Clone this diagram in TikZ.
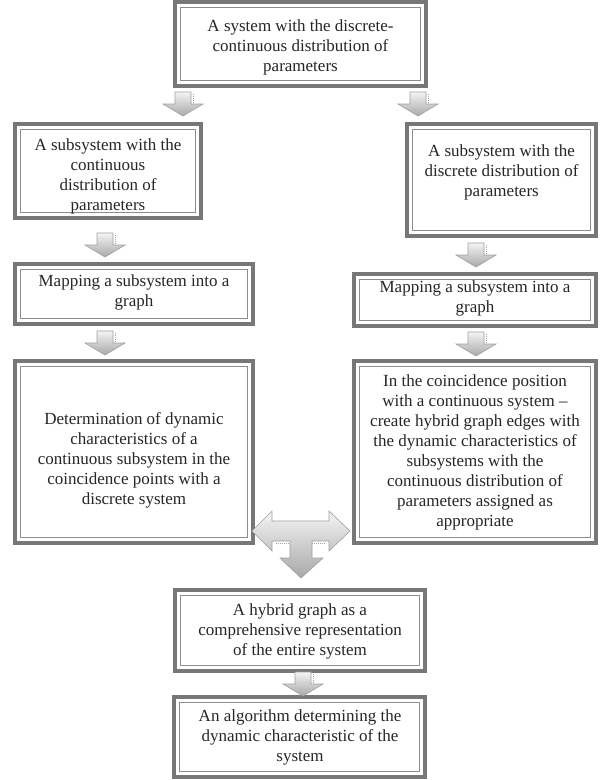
\documentclass[tikz,border=0pt]{standalone}
\usepackage{fontspec}
\setmainfont{Liberation Serif}
\definecolor{boxgray}{HTML}{777777}
\definecolor{linegray}{HTML}{8C8C8C}
\definecolor{arrline}{HTML}{A0A0A0}
\definecolor{arrtop}{HTML}{F4F4F4}
\definecolor{arrbot}{HTML}{A8A8A8}
\definecolor{txtcol}{HTML}{262626}
\tikzset{
  box/.style={rectangle, draw=boxgray, line width=4pt, fill=white, inner sep=0pt, outer sep=0pt},
  innerline/.style={draw=linegray, line width=1.1pt},
  txt/.style={align=center, font=\fontsize{17}{20}\selectfont, text=txtcol, inner sep=0pt},
  arrfill/.style={draw=arrline, line width=0.6pt, top color=arrtop, bottom color=arrbot},
  darrow/.pic={
    \path[arrfill] (-8,0) -- (8,0) -- (8,-12) -- (20,-12) -- (0,-24) -- (-20,-12) -- (-8,-12) -- cycle;
    \draw[arrline, line width=0.8pt, dash pattern=on 1pt off 1pt] (10,-2) -- (10,-12);
  }
}
\newcommand\mkbox[5]{%
  \node[box, minimum width={(#4-#2-4)*1pt}, minimum height={(#5-#3-4)*1pt}] (#1) at ({(#2+#4)/2},{-(#3+#5)/2}) {};
  \draw[innerline] ([shift={(5.3,-5.3)}]#1.north west) rectangle ([shift={(-5.3,5.3)}]#1.south east);
}
\begin{document}
\begin{tikzpicture}[x=1pt,y=1pt]
\useasboundingbox (0,0) rectangle (601,-780);
\fill[white] (0,0) rectangle (601,-780);

% boxes
\mkbox{top}{173}{0}{428}{88}
\mkbox{L1}{13}{122}{203}{220}
\mkbox{R1}{405}{122}{598}{238}
\mkbox{L2}{13}{262}{255}{326}
\mkbox{R2}{352}{272}{598}{328}
\mkbox{L3}{13}{359}{255}{545}
\mkbox{R3}{352}{359}{598}{545}
\mkbox{H}{173}{588}{427}{673}
\mkbox{A}{172}{695}{427}{779}

% texts
\node[txt] (t-top) at (300.5,-47) {A system with the discrete-\\continuous distribution of\\parameters};
\node[txt] (t-L1) at (108,-176) {A subsystem with the\\continuous\\distribution of\\parameters};
\node[txt] (t-R1) at (501.5,-172) {A subsystem with the\\discrete distribution of\\parameters};
\node[txt] (t-L2) at (134,-292) {Mapping a subsystem into a\\graph};
\node[txt] (t-R2) at (475,-298) {Mapping a subsystem into a\\graph};
\node[txt] (t-L3) at (134,-460) {Determination of dynamic\\characteristics of a\\continuous subsystem in the\\coincidence points with a\\discrete system};
\node[txt] (t-R3) at (475,-452) {In the coincidence position\\with a continuous system --\\create hybrid graph edges with\\the dynamic characteristics of\\subsystems with the\\continuous distribution of\\parameters assigned as\\appropriate};
\node[txt] (t-H) at (300,-631) {A hybrid graph as a\\comprehensive representation\\of the entire system};
\node[txt] (t-A) at (300,-737) {An algorithm determining the\\dynamic characteristic of the\\system};

% block arrows
\pic at (183,-92) {darrow};
\pic at (418,-92) {darrow};
\pic at (105,-233) {darrow};
\pic at (105,-331) {darrow};
\pic at (476,-243) {darrow};
\pic at (476,-332) {darrow};
\pic at (303,-672) {darrow};

% T-shaped three-way arrow
\path[arrfill] (252,-531) -- (272,-511) -- (272,-521) -- (329,-521) -- (329,-511) -- (350,-531)
  -- (329,-551) -- (329,-541) -- (312,-541) -- (312,-558) -- (323,-558) -- (301,-578)
  -- (280,-558) -- (290,-558) -- (290,-541) -- (272,-541) -- (272,-551) -- cycle;
\draw[arrline, line width=0.8pt, dash pattern=on 1pt off 1pt] (276,-543) -- (290,-543) (312,-543) -- (326,-543);
\end{tikzpicture}
\end{document}
